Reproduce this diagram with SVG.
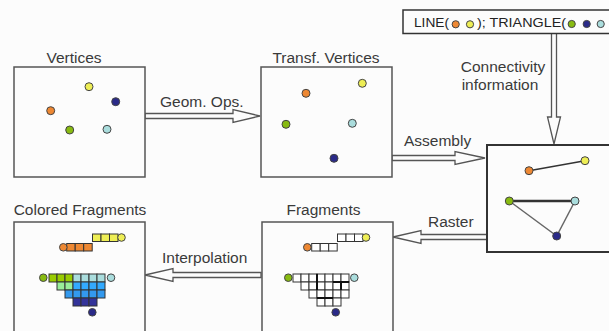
<svg xmlns="http://www.w3.org/2000/svg" width="609" height="331" viewBox="0 0 609 331">
<style>
.bg{fill:#fcfcfc}
.box{fill:#fcfcfc;stroke:#555;stroke-width:1.5}
.t{font-family:"Liberation Sans",Arial,sans-serif;font-size:15.5px;fill:#3a3a3a}
.tc{text-anchor:middle}
.ts{font-size:13.5px;fill:#222}
.arr{fill:#fcfcfc;stroke:#555;stroke-width:1.3;stroke-linejoin:miter}
.d{stroke:#444;stroke-width:1}
.o{fill:#ee8833}.y{fill:#eeee55}.n{fill:#2a2a88}.g{fill:#88bb11}.l{fill:#aadddd}
.c{stroke:#333;stroke-width:1}
</style>
<rect class="bg" x="0" y="0" width="609" height="331"/>

<g id="connectors">
<polygon class="arr" points="145,113.5 233,113.5 233,109.5 260,116 233,122.5 233,118.5 145,118.5"/>
<polygon class="arr" points="392,155.5 455,155.5 455,151.5 485,158 455,164.5 455,160.5 392,160.5"/>
<polygon class="arr" points="487,234.5 421,234.5 421,230.5 393,237 421,243.5 421,239.5 487,239.5"/>
<polygon class="arr" points="261,272.5 173,272.5 173,268.5 145,275 173,281.5 173,277.5 261,277.5"/>
<polygon class="arr" points="551.5,33 551.5,117 547.5,117 554,144 560.5,117 556.5,117 556.5,33"/>
<text class="t" x="160" y="107">Geom. Ops.</text>
<text class="t" x="404" y="146">Assembly</text>
<text class="t" x="428" y="227">Raster</text>
<text class="t" x="162" y="263">Interpolation</text>
<text class="t tc" x="503" y="72">Connectivity</text>
<text class="t tc" x="500" y="90">information</text>
</g>

<g id="connectivity">
<rect x="403" y="10" width="212" height="23.5" fill="#fcfcfc" stroke="#333" stroke-width="1.5"/>
<text class="t ts" x="414" y="27" textLength="35" lengthAdjust="spacingAndGlyphs">LINE(</text>
<circle class="d o" cx="455.7" cy="24.3" r="3.6"/>
<circle class="d y" cx="470" cy="24.3" r="3.6"/>
<text class="t ts" x="477" y="27" textLength="89" lengthAdjust="spacingAndGlyphs">); TRIANGLE(</text>
<circle class="d g" cx="571.7" cy="24" r="3.6"/>
<circle class="d n" cx="586.7" cy="24" r="3.6"/>
<circle class="d l" cx="600.7" cy="24" r="3.6"/>
</g>

<g id="vertices">
<text class="t tc" x="74" y="63">Vertices</text>
<rect class="box" x="14" y="67" width="131" height="110"/>
<circle class="d y" cx="89" cy="86.7" r="4"/>
<circle class="d n" cx="115.7" cy="101.7" r="4"/>
<circle class="d o" cx="50.7" cy="110.7" r="4"/>
<circle class="d g" cx="69.7" cy="130" r="4"/>
<circle class="d l" cx="107" cy="129.3" r="4"/>
</g>

<g id="transf-vertices">
<text class="t tc" x="326" y="63">Transf. Vertices</text>
<rect class="box" x="261" y="67" width="131" height="110"/>
<circle class="d o" cx="306" cy="93.3" r="4"/>
<circle class="d y" cx="362.3" cy="83.3" r="4"/>
<circle class="d g" cx="286" cy="124.3" r="4"/>
<circle class="d l" cx="352.3" cy="123.3" r="4"/>
<circle class="d n" cx="334" cy="158.3" r="4"/>
</g>

<g id="assembly">
<rect x="487" y="145" width="130" height="107" fill="#fcfcfc" stroke="#333" stroke-width="2"/>
<line x1="529" y1="170.7" x2="585" y2="160.7" stroke="#333" stroke-width="1.5"/>
<line x1="509.3" y1="201" x2="575" y2="201" stroke="#333" stroke-width="2.5"/>
<line x1="509.3" y1="201" x2="556.7" y2="236" stroke="#666" stroke-width="1.5"/>
<line x1="575" y1="201" x2="556.7" y2="236" stroke="#666" stroke-width="1.5"/>
<circle class="d o" cx="529" cy="170.7" r="4"/>
<circle class="d y" cx="585" cy="160.7" r="4"/>
<circle class="d g" cx="509.3" cy="201" r="4"/>
<circle class="d l" cx="575" cy="201" r="4"/>
<circle class="d n" cx="556.7" cy="236" r="4"/>
</g>

<g id="colored-fragments">
<text class="t tc" x="80" y="215">Colored Fragments</text>
<rect class="box" x="14" y="222" width="131" height="120"/>
<g class="c">
<rect class="o" x="66.7" y="243.5" width="8.5" height="7.5"/>
<rect class="o" x="75.2" y="243.5" width="8.5" height="7.5"/>
<rect class="o" x="83.7" y="243.5" width="8.5" height="7.5"/>
<rect class="y" x="92.5" y="234" width="8.5" height="7.5"/>
<rect class="y" x="101" y="234" width="8.5" height="7.5"/>
<rect class="y" x="109.5" y="234" width="8.5" height="7.5"/>
<rect fill="#99cc00" x="49" y="274" width="8" height="8"/>
<rect fill="#99cc00" x="57" y="274" width="8" height="8"/>
<rect fill="#99cc00" x="65" y="274" width="8" height="8"/>
<rect fill="#aadddd" x="73" y="274" width="8" height="8"/>
<rect fill="#aadddd" x="81" y="274" width="8" height="8"/>
<rect fill="#aadddd" x="89" y="274" width="8" height="8"/>
<rect fill="#aadddd" x="97" y="274" width="8" height="8"/>
<rect fill="#99ee99" x="57" y="282" width="8" height="8"/>
<rect fill="#99ee99" x="65" y="282" width="8" height="8"/>
<rect fill="#33aaff" x="73" y="282" width="8" height="8"/>
<rect fill="#33aaff" x="81" y="282" width="8" height="8"/>
<rect fill="#33aaff" x="89" y="282" width="8" height="8"/>
<rect fill="#33aaff" x="97" y="282" width="8" height="8"/>
<rect fill="#3399ee" x="65" y="290" width="8" height="8"/>
<rect fill="#3399ee" x="73" y="290" width="8" height="8"/>
<rect fill="#3399ee" x="81" y="290" width="8" height="8"/>
<rect fill="#3399ee" x="89" y="290" width="8" height="8"/>
<rect fill="#3399ee" x="97" y="290" width="8" height="8"/>
<rect fill="#333399" x="73" y="298" width="8" height="8"/>
<rect fill="#333399" x="81" y="298" width="8" height="8"/>
<rect fill="#333399" x="89" y="298" width="8" height="8"/>
</g>
<circle class="d o" cx="63.3" cy="247.3" r="3.8"/>
<circle class="d y" cx="121.5" cy="237.5" r="3.8"/>
<circle class="d g" cx="43.3" cy="277.7" r="3.8"/>
<circle class="d l" cx="111" cy="277.7" r="3.8"/>
<circle class="d n" cx="92.3" cy="312.3" r="3.8"/>
</g>

<g id="fragments">
<text class="t tc" x="323.5" y="215">Fragments</text>
<rect class="box" x="262" y="222" width="131" height="120"/>
<g class="c" fill="#fff">
<rect x="311.7" y="243.5" width="8.5" height="7.5"/>
<rect x="320.2" y="243.5" width="8.5" height="7.5"/>
<rect x="328.7" y="243.5" width="8.5" height="7.5"/>
<rect x="337.5" y="234" width="8.5" height="7.5"/>
<rect x="346" y="234" width="8.5" height="7.5"/>
<rect x="354.5" y="234" width="8.5" height="7.5"/>
<rect x="293" y="274" width="8" height="8"/>
<rect x="301" y="274" width="8" height="8"/>
<rect x="309" y="274" width="8" height="8"/>
<rect x="317" y="274" width="8" height="8"/>
<rect x="325" y="274" width="8" height="8"/>
<rect x="333" y="274" width="8" height="8"/>
<rect x="341" y="274" width="8" height="8"/>
<rect x="301" y="282" width="8" height="8"/>
<rect x="309" y="282" width="8" height="8"/>
<rect x="317" y="282" width="8" height="8"/>
<rect x="325" y="282" width="8" height="8"/>
<rect x="333" y="282" width="8" height="8"/>
<rect x="341" y="282" width="8" height="8"/>
<rect x="309" y="290" width="8" height="8"/>
<rect x="317" y="290" width="8" height="8"/>
<rect x="325" y="290" width="8" height="8"/>
<rect x="333" y="290" width="8" height="8"/>
<rect x="341" y="290" width="8" height="8"/>
<rect x="317" y="298" width="8" height="8"/>
<rect x="325" y="298" width="8" height="8"/>
<rect x="333" y="298" width="8" height="8"/>
</g>
<g stroke="#111" stroke-width="2" fill="none">
<line x1="317" y1="274" x2="317" y2="290"/>
<line x1="333" y1="282" x2="349" y2="282"/>
<line x1="341" y1="282" x2="341" y2="290"/>
<line x1="317" y1="298" x2="333" y2="298"/>
</g>
<circle class="d o" cx="307.3" cy="247.3" r="3.8"/>
<circle class="d y" cx="366" cy="237.5" r="3.8"/>
<circle class="d g" cx="288.3" cy="277.7" r="3.8"/>
<circle class="d l" cx="354.3" cy="277.7" r="3.8"/>
<circle class="d n" cx="335.7" cy="312.3" r="3.8"/>
</g>
</svg>
